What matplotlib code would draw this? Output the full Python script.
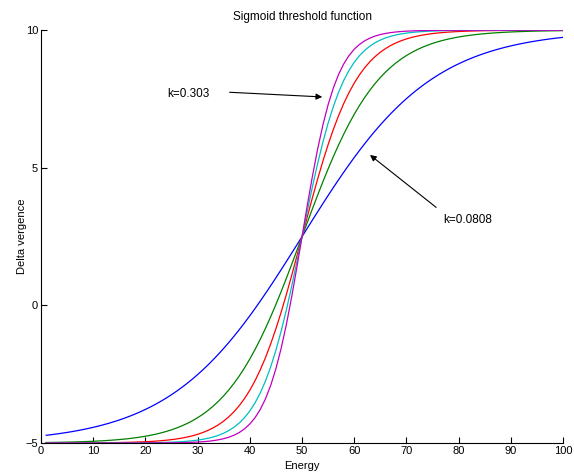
import matplotlib
matplotlib.use("Agg")
import matplotlib.pyplot as plt
import numpy as np

# slope values of the five threshold curves
k_values = [0.0808, 0.1364, 0.1919, 0.2475, 0.303]
colors = ["#0000ff", "#008000", "#ff0000", "#00bfbf", "#bf00bf"]
energy = np.arange(1, 101)
y_low, y_high, midpoint = -5.0, 10.0, 50.0

x_ticks = list(range(0, 101, 10))
y_ticks = [-5, 0, 5, 10]

plt.rcParams["font.family"] = ["Liberation Sans", "DejaVu Sans"]
plt.rcParams["font.size"] = 8

fig = plt.figure(figsize=(5.74, 4.72), dpi=100)
ax = fig.add_axes([0.0714, 0.0614, 0.9096, 0.8746])

for k, c in zip(k_values, colors):
  vergence = y_low + (y_high - y_low) / (1 + np.exp(-k * (energy - midpoint)))
  ax.plot(energy, vergence, color=c, lw=0.9)

ax.set_xlim(0, 100)
ax.set_ylim(-5, 10)
ax.set_xticks(x_ticks)
ax.set_yticks(y_ticks)
ax.tick_params(direction="in", length=4, width=0.8, pad=2)
for side in ["top", "right"]:
  ax.spines[side].set_visible(False)
for side in ["left", "bottom"]:
  ax.spines[side].set_linewidth(0.8)

ax.set_title("Sigmoid threshold function", fontsize=8.5, pad=7)
ax.set_xlabel("Energy", labelpad=4)
ax.set_ylabel("Delta vergence", labelpad=-1)

arrow = dict(arrowstyle="-|>", color="black", lw=0.8, mutation_scale=9)
ax.annotate("", xy=(54.4, 7.57), xytext=(35.6, 7.75), arrowprops=arrow)
ax.text(24.1, 7.67, "k=0.303", va="center", ha="left", fontsize=8.5)
ax.annotate("", xy=(62.6, 5.53), xytext=(76.1, 3.5), arrowprops=arrow)
ax.text(77.0, 3.1, "k=0.0808", va="center", ha="left", fontsize=8.5)

fig.savefig("out.png", dpi=100)
